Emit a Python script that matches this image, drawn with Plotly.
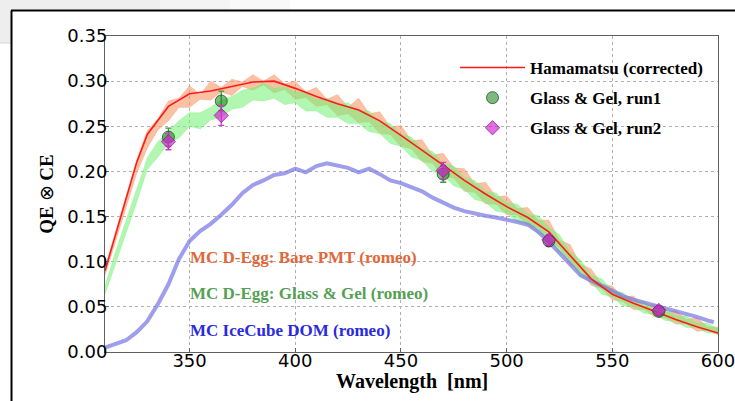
import plotly.graph_objects as go

# ---------------- data ----------------
wl_red = [310, 315, 320, 325, 330, 340, 350, 360, 370, 380, 390, 400, 410, 420, 430,
          440, 450, 460, 470, 480, 490, 500, 510, 520, 530, 540, 550, 560, 570, 580, 590, 600]
qe_red = [0.090, 0.130, 0.171, 0.210, 0.241, 0.272, 0.286, 0.289, 0.294, 0.299, 0.300, 0.292,
          0.283, 0.275, 0.268, 0.256, 0.240, 0.224, 0.207, 0.190, 0.175, 0.161, 0.149, 0.133,
          0.107, 0.081, 0.064, 0.054, 0.045, 0.036, 0.028, 0.021]

wl_band = [310, 315, 320, 325, 330, 335, 340, 345, 350, 355, 360, 365, 370, 375, 380, 385,
           390, 395, 400, 405, 410, 415, 420, 425, 430, 435, 440, 445, 450, 455, 460, 465,
           470, 475, 480, 485, 490, 495, 500, 505, 510, 515, 520, 525, 530, 535, 540, 545,
           550, 555, 560, 565, 570, 575, 580, 585, 590, 595, 600]

bare_lo = [0.085, 0.124, 0.160, 0.198, 0.226, 0.246, 0.256, 0.271, 0.271, 0.280, 0.279, 0.288,
           0.284, 0.294, 0.290, 0.296, 0.287, 0.291, 0.280, 0.282, 0.272, 0.274, 0.262, 0.264,
           0.254, 0.255, 0.242, 0.241, 0.228, 0.225, 0.211, 0.209, 0.194, 0.193, 0.178, 0.177,
           0.164, 0.164, 0.152, 0.152, 0.140, 0.138, 0.122, 0.116, 0.097, 0.090, 0.074, 0.070,
           0.058, 0.056, 0.047, 0.047, 0.039, 0.038, 0.031, 0.031, 0.023, 0.024, 0.019]
bare_hi = [0.093, 0.134, 0.175, 0.213, 0.245, 0.258, 0.278, 0.281, 0.295, 0.285, 0.300, 0.293,
           0.302, 0.299, 0.307, 0.300, 0.307, 0.297, 0.300, 0.288, 0.293, 0.280, 0.285, 0.271,
           0.281, 0.264, 0.266, 0.249, 0.251, 0.234, 0.235, 0.218, 0.220, 0.204, 0.203, 0.186,
           0.188, 0.172, 0.173, 0.159, 0.160, 0.146, 0.146, 0.124, 0.119, 0.097, 0.092, 0.075,
           0.073, 0.061, 0.062, 0.051, 0.053, 0.044, 0.046, 0.036, 0.038, 0.028, 0.027]

gel_lo = [0.064, 0.098, 0.132, 0.166, 0.202, 0.216, 0.231, 0.237, 0.250, 0.247, 0.257, 0.260,
          0.269, 0.271, 0.279, 0.278, 0.281, 0.274, 0.276, 0.267, 0.267, 0.260, 0.260, 0.253,
          0.253, 0.244, 0.242, 0.231, 0.228, 0.216, 0.212, 0.200, 0.196, 0.184, 0.180, 0.169,
          0.166, 0.156, 0.154, 0.144, 0.142, 0.131, 0.126, 0.110, 0.101, 0.084, 0.077, 0.064,
          0.061, 0.051, 0.050, 0.043, 0.042, 0.035, 0.034, 0.027, 0.027, 0.021, 0.021]
gel_hi = [0.073, 0.111, 0.146, 0.181, 0.215, 0.233, 0.245, 0.256, 0.265, 0.265, 0.271, 0.279,
          0.283, 0.290, 0.292, 0.298, 0.292, 0.294, 0.288, 0.288, 0.280, 0.281, 0.274, 0.276,
          0.267, 0.267, 0.255, 0.253, 0.241, 0.238, 0.225, 0.222, 0.209, 0.206, 0.193, 0.190,
          0.178, 0.176, 0.165, 0.164, 0.153, 0.151, 0.138, 0.130, 0.111, 0.102, 0.085, 0.081,
          0.068, 0.066, 0.056, 0.056, 0.048, 0.048, 0.040, 0.040, 0.032, 0.032, 0.026]

wl_dom = [310, 315, 320, 325, 330, 335, 340, 345, 350, 355, 360, 365, 370, 375, 380, 385,
          390, 395, 400, 405, 410, 415, 420, 425, 430, 435, 440, 445, 450, 455, 460, 465,
          470, 475, 480, 485, 490, 495, 500, 505, 510, 515, 520, 525, 530, 535, 540, 545,
          550, 555, 560, 565, 570, 575, 580, 585, 590, 595, 598]
qe_dom = [0.005, 0.009, 0.013, 0.022, 0.034, 0.053, 0.075, 0.103, 0.123, 0.134, 0.142, 0.152,
          0.163, 0.176, 0.185, 0.190, 0.196, 0.198, 0.203, 0.199, 0.206, 0.209, 0.206, 0.204,
          0.199, 0.203, 0.197, 0.190, 0.187, 0.182, 0.178, 0.171, 0.165, 0.160, 0.156, 0.153,
          0.151, 0.149, 0.147, 0.144, 0.141, 0.133, 0.122, 0.110, 0.097, 0.085, 0.079, 0.073,
          0.068, 0.062, 0.058, 0.055, 0.052, 0.049, 0.046, 0.043, 0.039, 0.035, 0.033]

wl_meas = [340, 365, 470, 520, 572]
run1 = [0.238, 0.278, 0.197, 0.123, 0.045]
run1_err = [0.010, 0.011, 0.009, 0.006, 0.004]
run2 = [0.233, 0.262, 0.201, 0.124, 0.046]
run2_err = [0.009, 0.011, 0.009, 0.006, 0.004]

x_ticks = [350, 400, 450, 500, 550, 600]
y_ticks = [0.00, 0.05, 0.10, 0.15, 0.20, 0.25, 0.30, 0.35]

# ---------------- layout geometry ----------------
W, H = 735, 401
L, R, T, B = 105, 718, 36, 352


def px(x):
    return (x - L) / (R - L)


def py(y):
    return (B - y) / (B - T)


SERIF = "Liberation Serif"
SANS = "DejaVu Sans"

fig = go.Figure()

fig.add_trace(go.Scatter(
    x=wl_band + wl_band[::-1], y=bare_hi + bare_lo[::-1], fill="toself",
    fillcolor="rgba(248,155,110,0.62)", line=dict(width=0.6, color="rgba(248,155,110,0.7)"),
    mode="lines", showlegend=False, hoverinfo="skip"))
fig.add_trace(go.Scatter(
    x=wl_band + wl_band[::-1], y=gel_hi + gel_lo[::-1], fill="toself",
    fillcolor="rgba(120,240,120,0.58)", line=dict(width=0.6, color="rgba(120,240,120,0.6)"),
    mode="lines", showlegend=False, hoverinfo="skip"))
fig.add_trace(go.Scatter(
    x=wl_dom, y=qe_dom, mode="lines", line=dict(color="rgba(120,120,228,0.72)", width=4),
    showlegend=False))
fig.add_trace(go.Scatter(
    x=wl_red, y=qe_red, mode="lines", line=dict(color="#ff1a1a", width=1.6),
    name="Hamamatsu (corrected)", legendgroup="a"))
fig.add_trace(go.Scatter(
    x=wl_meas, y=run1, mode="markers", name="Glass & Gel, run1", legendgroup="b",
    marker=dict(symbol="circle", size=12, color="rgba(20,130,20,0.55)",
                line=dict(color="rgba(10,70,10,0.7)", width=1)),
    error_y=dict(type="data", array=run1_err, color="#3a9a3a", thickness=1.3, width=3)))
fig.add_trace(go.Scatter(
    x=wl_meas, y=run2, mode="markers", name="Glass & Gel, run2", legendgroup="c",
    marker=dict(symbol="diamond", size=11, color="rgba(210,30,210,0.65)",
                line=dict(color="rgba(140,20,140,0.7)", width=1)),
    error_y=dict(type="data", array=run2_err, color="#d040d0", thickness=1.3, width=3)))

texts = [("MC D-Egg: Bare PMT (romeo)", 0.105, "#e0683a"),
         ("MC D-Egg: Glass & Gel (romeo)", 0.065, "#55a055"),
         ("MC IceCube DOM (romeo)", 0.024, "#2a2ae0")]
for t, yv, c in texts:
    fig.add_annotation(x=349.5, y=yv, xref="x", yref="y", text=t, showarrow=False,
                       xanchor="left", yanchor="middle",
                       font=dict(family=SERIF, size=17, color=c, weight="bold"))

# x-axis title
fig.add_annotation(x=0.5, y=py(381), xref="paper", yref="paper", text="Wavelength  [nm]",
                   showarrow=False, xanchor="center", yanchor="middle",
                   font=dict(family=SERIF, size=20, color="black", weight="bold"))


def rect(x0, x1, y0, y1, color):
    return dict(type="rect", xref="paper", yref="paper", x0=px(x0), x1=px(x1),
                y0=py(y0), y1=py(y1), fillcolor=color, line=dict(width=0), layer="below")


def hline(x0, x1, y, color, w):
    return dict(type="line", xref="paper", yref="paper", x0=px(x0), x1=px(x1),
                y0=py(y), y1=py(y), line=dict(color=color, width=w))


def vline(x, y0, y1, color, w):
    return dict(type="line", xref="paper", yref="paper", x0=px(x), x1=px(x),
                y0=py(y0), y1=py(y1), line=dict(color=color, width=w))


shapes = [
    rect(0, 160, 0, 10.5, "#eeeeee"),
    rect(160, 230, 0, 10.5, "#f4f4f4"),
    rect(230, 290, 0, 10.5, "#f9f9f9"),
    rect(0, 11, 0, 43, "#eeeeee"),
    hline(0, 11, 43, "#d4d4d4", 1),
    vline(11.5, 10.5, 401, "black", 2),
    hline(11, 735, 10.5, "black", 2),
]

axis_common = dict(showgrid=True, gridcolor="#b0b0b0", griddash="dot", gridwidth=1,
                   showline=True, linecolor="#606060", linewidth=1, mirror=True,
                   ticks="inside", ticklen=4, tickcolor="#606060", zeroline=False,
                   ticklabeloverflow="allow", automargin=False,
                   tickfont=dict(family=SANS, size=18, color="black"))

fig.update_layout(
    width=W, height=H, margin=dict(l=L, r=W - R, t=T, b=H - B, autoexpand=False),
    paper_bgcolor="white", plot_bgcolor="white", shapes=shapes,
    xaxis=dict(range=[310, 600], tickvals=x_ticks, ticklabelstandoff=-8, **axis_common),
    yaxis=dict(range=[0, 0.35], tickvals=y_ticks, tickformat=".2f", ticklabelstandoff=-7,
               **axis_common,
               title=dict(text="QE <span style='font-weight:normal'>⊗</span> CE", standoff=8,
                          font=dict(family=SERIF, size=19, color="black", weight="bold"))),
    legend=dict(x=px(455), y=py(50), xanchor="left", yanchor="top", bgcolor="rgba(0,0,0,0)",
                font=dict(family=SERIF, size=17, color="black", weight="bold"),
                traceorder="grouped", tracegroupgap=5, itemwidth=65),
    showlegend=True,
)

fig.write_html("out.html")
